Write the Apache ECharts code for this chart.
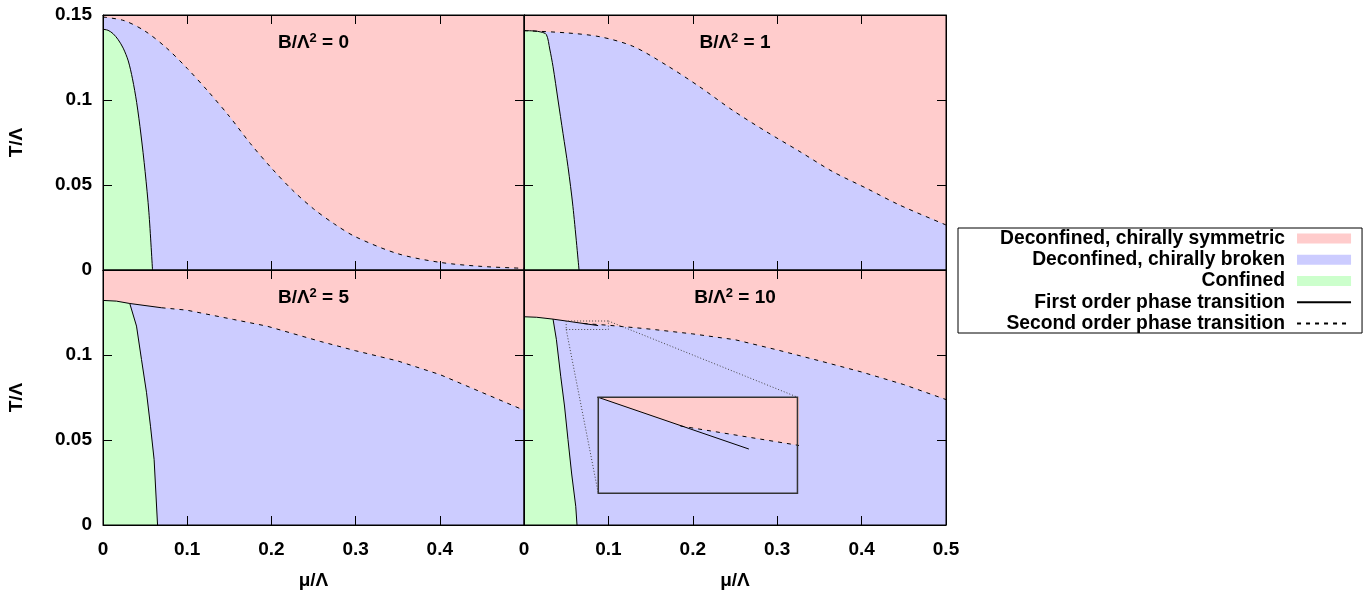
<!DOCTYPE html>
<html>
<head>
<meta charset="utf-8">
<script src="https://cdn.jsdelivr.net/npm/echarts@6/dist/echarts.min.js"></script>
<style>
  html, body { margin: 0; padding: 0; background: #fff; }
  #phase { width: 1369px; height: 591px; }
</style>
</head>
<body>
<div id="phase"></div>
<script>
// phase boundaries, points are [mu/Lambda, T/Lambda]
const bValues = [0, 1, 5, 10]

const confined0 = [[0, 0.1416], [0.006, 0.141], [0.012, 0.139], [0.018, 0.1355], [0.024, 0.1305], [0.03, 0.123], [0.035, 0.1125], [0.04, 0.0985], [0.045, 0.08], [0.05, 0.058], [0.0545, 0.034], [0.0588, 0]]
const firstOrder0 = []
const secondOrder0 = [[0, 0.1488], [0.025, 0.1467], [0.05, 0.1405], [0.075, 0.1308], [0.1, 0.1186], [0.125, 0.105], [0.15, 0.0904], [0.175, 0.0744], [0.2, 0.06], [0.225, 0.047], [0.25, 0.036], [0.275, 0.027], [0.3, 0.0195], [0.35, 0.0096], [0.4, 0.0045], [0.45, 0.0021], [0.5, 0.001]]

const confined1 = [[0, 0.1408], [0.012, 0.1406], [0.02, 0.14], [0.0265, 0.1385], [0.0305, 0.13], [0.0344, 0.1196], [0.0403, 0.1], [0.0462, 0.0804], [0.0521, 0.0608], [0.058, 0.0373], [0.0652, 0]]
const firstOrder1 = []
const secondOrder1 = [[0, 0.1408], [0.05, 0.1395], [0.09, 0.1372], [0.129, 0.1316], [0.169, 0.1204], [0.208, 0.1078], [0.247, 0.094], [0.287, 0.0814], [0.327, 0.0696], [0.366, 0.0578], [0.406, 0.048], [0.445, 0.0382], [0.5, 0.0265]]

const confined5 = [[0, 0.1321], [0.0159, 0.1317], [0.0318, 0.1303], [0.0398, 0.117], [0.0457, 0.0974], [0.0517, 0.0778], [0.0564, 0.0581], [0.0607, 0.0385], [0.0648, 0]]
const firstOrder5 = [[0.0318, 0.1303], [0.0695, 0.1278]]
const secondOrder5 = [[0.0695, 0.1278], [0.0992, 0.1264], [0.155, 0.1209], [0.1945, 0.117], [0.258, 0.108], [0.3, 0.1025], [0.35, 0.0965], [0.4, 0.0885], [0.45, 0.078], [0.5, 0.0675]]

const confined10 = [[0, 0.1225], [0.015, 0.1222], [0.0344, 0.1211], [0.0384, 0.109], [0.0435, 0.0875], [0.048, 0.07], [0.0521, 0.0503], [0.0565, 0.03], [0.0613, 0.011], [0.0628, 0]]
const firstOrder10 = [[0.0344, 0.1211], [0.0878, 0.1173]]
const secondOrder10 = [[0.0706, 0.1185], [0.1, 0.1175], [0.15, 0.1152], [0.2, 0.1124], [0.25, 0.109], [0.3, 0.103], [0.35, 0.0966], [0.4, 0.09], [0.45, 0.0826], [0.5, 0.0738]]

// axes
const muRange = [0, 0.5]
const tRange = [0, 0.15]
const muStep = 0.1
const tStep = 0.05

// magnified window (B = 10) and where the inset sits inside that panel
const insetMu = [0.05, 0.1]
const insetT = [0.115, 0.12]
const insetBox = [[0.088, 0.0187], [0.324, 0.0752]]

const panels = [
  { conf: confined0, first: firstOrder0, second: secondOrder0, smooth: 0.3 },
  { conf: confined1, first: firstOrder1, second: secondOrder1, smooth: 0.3 },
  { conf: confined5, first: firstOrder5, second: secondOrder5, smooth: false },
  { conf: confined10, first: firstOrder10, second: secondOrder10, smooth: false }
]

const NAMES = ['Deconfined, chirally symmetric', 'Deconfined, chirally broken', 'Confined', 'First order phase transition', 'Second order phase transition']
const RED = '#ffcccc', BLUE = '#ccccff', GREEN = '#ccffcc'
const FONT = "'Liberation Sans', Arial, sans-serif"
const DASH = [4, 5]

// panel layout in px
const colLeft = [103, 524], colWidth = [421, 422]
const rowTop = [15, 270], rowHeight = 255

// upper edge of the broken phase: confined top, first order piece, then second order line
function brokenEdge (p) {
  if (!p.first.length) return p.second
  return p.conf.filter(d => d[0] < p.first[0][0]).concat([p.first[0]], p.second)
}

function area (name, data, color, gi, z, smooth) {
  return {
    name, type: 'line', data, xAxisIndex: gi * 2, yAxisIndex: gi * 2, smooth,
    symbol: 'none', color, lineStyle: { width: 0 },
    areaStyle: { color, opacity: 1 }, z, silent: true
  }
}
function curve (name, data, type, gi, z, smooth) {
  return {
    name, type: 'line', data, xAxisIndex: gi * 2, yAxisIndex: gi * 2, smooth,
    symbol: 'none', color: '#000', lineStyle: { color: '#000', width: 1, type }, z, silent: true
  }
}
function panelSeries (p, gi, z) {
  const top = [[muRange[0], tRange[1]], [muRange[1], tRange[1]]]
  const list = [
    area(NAMES[0], top, RED, gi, z, false),
    area(NAMES[1], brokenEdge(p), BLUE, gi, z, p.smooth),
    area(NAMES[2], p.conf, GREEN, gi, z, p.smooth),
    curve(NAMES[3], p.conf, 'solid', gi, z, p.smooth)
  ]
  if (p.first.length) list.push(curve(NAMES[3], p.first, 'solid', gi, z, false))
  list.push(curve(NAMES[4], p.second, DASH, gi, z, p.smooth))
  return list
}

const labelStyle = { color: '#000', fontFamily: FONT, fontWeight: 'bold', fontSize: 19 }
const tickStyle = { show: true, inside: true, length: 9, lineStyle: { color: '#000', width: 1 } }

let grid = [], xAxis = [], yAxis = [], series = [], title = []
panels.forEach((p, i) => {
  const col = i % 2, row = Math.floor(i / 2)
  grid.push({ left: colLeft[col], top: rowTop[row], width: colWidth[col], height: rowHeight,
    show: true, borderColor: '#000', borderWidth: 1, z: 10 })
  const base = { gridIndex: i, type: 'value', z: 10, splitLine: { show: false }, axisTick: tickStyle,
    axisLine: { show: true, onZero: false, lineStyle: { color: '#000', width: 1 } } }
  xAxis.push(Object.assign({}, base, {
    position: 'bottom', min: muRange[0], max: muRange[1], interval: muStep,
    axisLabel: { show: row === 1, margin: 15.5, showMaxLabel: col === 1, ...labelStyle },
    name: row === 1 ? 'μ/Λ' : '', nameLocation: 'middle', nameGap: 46, nameTextStyle: labelStyle
  }))
  xAxis.push(Object.assign({}, base, {
    position: 'top', min: muRange[0], max: muRange[1], interval: muStep, axisLabel: { show: false }
  }))
  yAxis.push(Object.assign({}, base, {
    position: 'left', min: tRange[0], max: tRange[1], interval: tStep,
    axisLabel: { show: col === 0, margin: 11, showMaxLabel: row === 0, ...labelStyle },
    name: col === 0 ? 'T/Λ' : '', nameLocation: 'middle', nameGap: 77, nameTextStyle: labelStyle
  }))
  yAxis.push(Object.assign({}, base, {
    position: 'right', min: tRange[0], max: tRange[1], interval: tStep, axisLabel: { show: false }
  }))
  series.push(...panelSeries(p, i, 2))
  title.push({
    text: '{n|B/Λ}{s|2}{n| = ' + bValues[i] + '}',
    left: colLeft[col] + colWidth[col] / 2 - 5, top: rowTop[row] + 11.5, textAlign: 'center',
    textStyle: {
      rich: {
        n: { fontFamily: FONT, fontWeight: 'bold', fontSize: 19, lineHeight: 23, color: '#000' },
        s: { fontFamily: FONT, fontWeight: 'bold', fontSize: 13, verticalAlign: 'top', color: '#000' }
      }
    }
  })
})

// inset: magnified piece of the B = 10 panel
const g3 = grid[3]
const px = m => g3.left + (m - muRange[0]) / (muRange[1] - muRange[0]) * g3.width
const py = t => g3.top + (tRange[1] - t) / (tRange[1] - tRange[0]) * g3.height
grid.push({
  left: px(insetBox[0][0]), top: py(insetBox[1][1]),
  width: px(insetBox[1][0]) - px(insetBox[0][0]), height: py(insetBox[0][1]) - py(insetBox[1][1]),
  show: true, borderColor: '#333', borderWidth: 1.5, z: 6
})
xAxis.push({ gridIndex: 4, type: 'value', min: insetMu[0], max: insetMu[1], show: false })
yAxis.push({ gridIndex: 4, type: 'value', min: insetT[0], max: insetT[1], show: false })
const insetSeries = panelSeries(panels[3], 0, 4).map(s => Object.assign(s, { xAxisIndex: 8, yAxisIndex: 8 }))
series.push(...insetSeries)

// dotted window and guide lines in the B = 10 panel
const dotted = { type: [1, 2], color: '#444', width: 1 }
const windowRect = [[insetMu[0], insetT[0]], [insetMu[1], insetT[0]], [insetMu[1], insetT[1]], [insetMu[0], insetT[1]], [insetMu[0], insetT[0]]]
const guides = [
  [[insetMu[0], insetT[0]], insetBox[0]],
  [[insetMu[1], insetT[1]], insetBox[1]]
]
;[windowRect, ...guides].forEach(d => series.push({
  type: 'line', data: d, xAxisIndex: 6, yAxisIndex: 6, symbol: 'none', silent: true,
  lineStyle: dotted, z: 3
}))

const chart = echarts.init(document.getElementById('phase'))
chart.setOption({
  animation: false,
  title,
  grid,
  xAxis,
  yAxis,
  legend: {
    orient: 'vertical', left: 958, top: 228, align: 'right',
    padding: [1, 10, 0, 42], itemGap: 2.25, itemWidth: 54, itemHeight: 10,
    borderColor: '#000', borderWidth: 1, backgroundColor: '#fff', selectedMode: false,
    textStyle: { ...labelStyle, fontSize: 19.3, lineHeight: 19, padding: [0, 7, 0, 0] },
    data: [
      { name: NAMES[0], icon: 'rect' },
      { name: NAMES[1], icon: 'rect' },
      { name: NAMES[2], icon: 'rect' },
      { name: NAMES[3], itemStyle: { opacity: 0 } },
      { name: NAMES[4], itemStyle: { opacity: 0 } }
    ]
  },
  series
})
window.onresize = chart.resize
</script>
</body>
</html>
